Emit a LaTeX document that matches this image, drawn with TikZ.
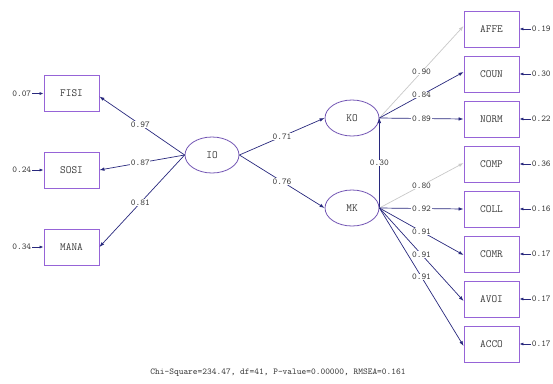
\documentclass[tikz,border=0pt]{standalone}
\usepackage{fontspec}
\usetikzlibrary{shapes.geometric,arrows.meta}
\definecolor{boxc}{RGB}{150,100,215}
\definecolor{ellc}{RGB}{115,85,180}
\definecolor{arrc}{RGB}{40,40,125}
\definecolor{grayc}{RGB}{200,200,200}
\definecolor{txtc}{RGB}{60,60,60}
\begin{document}
\begin{tikzpicture}[x=1pt,y=-1pt,
  obs/.style={draw=boxc,line width=0.8pt,fill=white,minimum width=55pt,minimum height=36pt,inner sep=0pt,font=\ttfamily\fontsize{11}{12}\selectfont,text=txtc},
  lat/.style={ellipse,draw=ellc,line width=0.8pt,fill=white,minimum width=54pt,minimum height=36pt,inner sep=0pt,font=\ttfamily\fontsize{11}{12}\selectfont,text=txtc},
  lab/.style={fill=white,inner sep=0.6pt,font=\ttfamily\fontsize{9}{10}\selectfont,text=txtc},
  errlab/.style={inner sep=0.6pt,font=\ttfamily\fontsize{9}{10}\selectfont,text=txtc},
  path/.style={draw=arrc,line width=0.7pt,-{Latex[length=5pt,width=3.5pt]}},
  gpath/.style={draw=grayc,line width=0.7pt,-{Latex[length=5pt,width=3.5pt]}},
  errarr/.style={draw=arrc,line width=0.7pt,-{Latex[length=4pt,width=3pt]}}
]
\useasboundingbox (0,0) rectangle (553,383);
% observed left
\node[obs] (FISI) at (71.5,93.5) {FISI};
\node[obs] (SOSI) at (71.5,170) {SOSI};
\node[obs] (MANA) at (71.5,247) {MANA};
% latent
\node[lat] (IO) at (212,155) {IO};
\node[lat] (KO) at (352,118) {KO};
\node[lat] (MK) at (352,208) {MK};
% observed right
\node[obs] (AFFE) at (491.5,29) {AFFE};
\node[obs] (COUN) at (491.5,74) {COUN};
\node[obs] (NORM) at (491.5,119) {NORM};
\node[obs] (COMP) at (491.5,164) {COMP};
\node[obs] (COLL) at (491.5,209) {COLL};
\node[obs] (COMR) at (491.5,254) {COMR};
\node[obs] (AVOI) at (491.5,299) {AVOI};
\node[obs] (ACCO) at (491.5,344) {ACCO};
% IO loadings
\draw[path] (IO.west) -- node[lab,pos=0.52] {0.97} ([yshift=-3pt]FISI.east);
\draw[path] (IO.west) -- node[lab,pos=0.52] {0.87} (SOSI.east);
\draw[path] (IO.west) -- node[lab,pos=0.52] {0.81} (MANA.east);
% structural
\draw[path] (IO.east) -- node[lab,pos=0.5] {0.71} (KO.west);
\draw[path] (IO.east) -- node[lab,pos=0.5] {0.76} (MK.west);
\draw[path] (MK.east) -- node[lab,pos=0.5] {0.30} (KO.east);
% KO loadings
\draw[gpath] (KO.east) -- node[lab,pos=0.5] {0.90} ([yshift=3pt]AFFE.west);
\draw[path] (KO.east) -- node[lab,pos=0.5] {0.84} ([yshift=2pt]COUN.west);
\draw[path] (KO.east) -- node[lab,pos=0.5] {0.89} (NORM.west);
% MK loadings
\draw[gpath] (MK.east) -- node[lab,pos=0.5] {0.80} ([yshift=1pt]COMP.west);
\draw[path] (MK.east) -- node[lab,pos=0.5] {0.92} (COLL.west);
\draw[path] (MK.east) -- node[lab,pos=0.5] {0.91} ([yshift=-1pt]COMR.west);
\draw[path] (MK.east) -- node[lab,pos=0.5] {0.91} ([yshift=-2pt]AVOI.west);
\draw[path] (MK.east) -- node[lab,pos=0.5] {0.91} ([yshift=-2pt]ACCO.west);
% error terms left
\node[errlab,anchor=east] (eFISI) at (32,93.5) {0.07};
\node[errlab,anchor=east] (eSOSI) at (32,170) {0.24};
\node[errlab,anchor=east] (eMANA) at (32,247) {0.34};
\draw[errarr] (eFISI.east) -- (FISI.west);
\draw[errarr] (eSOSI.east) -- (SOSI.west);
\draw[errarr] (eMANA.east) -- (MANA.west);
% error terms right
\node[errlab,anchor=west] (eAFFE) at (531,29) {0.19};
\node[errlab,anchor=west] (eCOUN) at (531,74) {0.30};
\node[errlab,anchor=west] (eNORM) at (531,119) {0.22};
\node[errlab,anchor=west] (eCOMP) at (531,164) {0.36};
\node[errlab,anchor=west] (eCOLL) at (531,209) {0.16};
\node[errlab,anchor=west] (eCOMR) at (531,254) {0.17};
\node[errlab,anchor=west] (eAVOI) at (531,299) {0.17};
\node[errlab,anchor=west] (eACCO) at (531,344) {0.17};
\foreach \n in {AFFE,COUN,NORM,COMP,COLL,COMR,AVOI,ACCO}
  \draw[errarr] (e\n.west) -- (\n.east);
% fit statistics
\node[errlab,font=\ttfamily\fontsize{9}{10}\selectfont] (fit) at (278,373) {Chi-Square=234.47, df=41, P-value=0.00000, RMSEA=0.161};
\end{tikzpicture}
\end{document}
